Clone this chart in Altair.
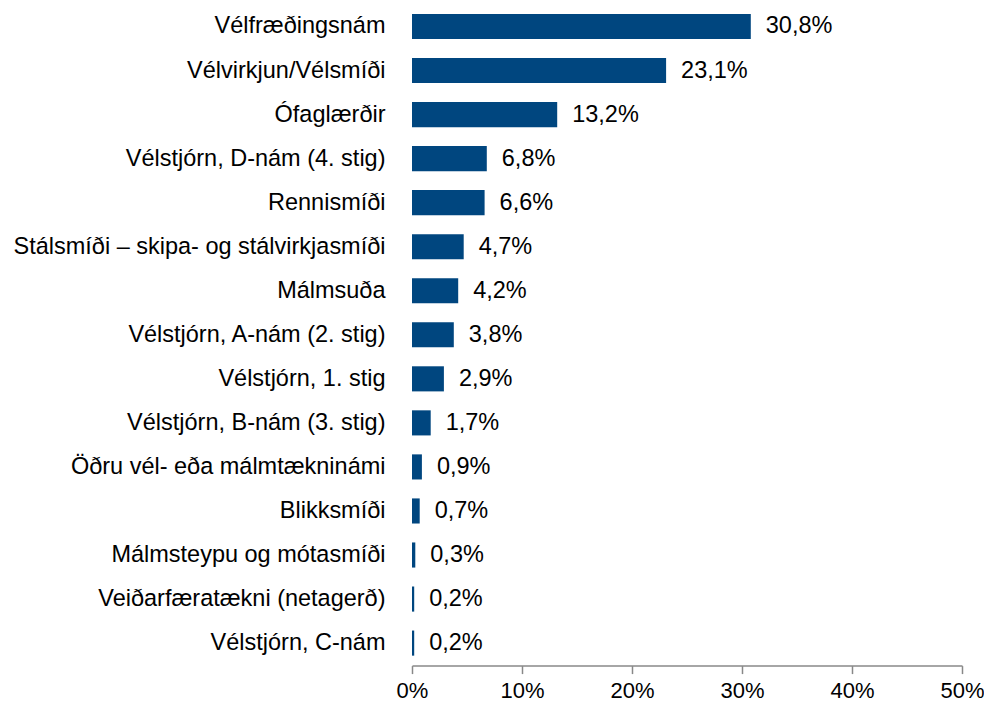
import altair as alt
import pandas as pd

categories = [
    "Vélfræðingsnám",
    "Vélvirkjun/Vélsmíði",
    "Ófaglærðir",
    "Vélstjórn, D-nám (4. stig)",
    "Rennismíði",
    "Stálsmíði – skipa- og stálvirkjasmíði",
    "Málmsuða",
    "Vélstjórn, A-nám (2. stig)",
    "Vélstjórn, 1. stig",
    "Vélstjórn, B-nám (3. stig)",
    "Öðru vél- eða málmtækninámi",
    "Blikksmíði",
    "Málmsteypu og mótasmíði",
    "Veiðarfæratækni (netagerð)",
    "Vélstjórn, C-nám",
]
values = [30.8, 23.1, 13.2, 6.8, 6.6, 4.7, 4.2, 3.8, 2.9, 1.7, 0.9, 0.7, 0.3, 0.2, 0.2]
x_ticks = [0, 10, 20, 30, 40, 50]

df = pd.DataFrame({
    "cat": categories,
    "val": values,
    "label": [f"{v:.1f}".replace(".", ",") + "%" for v in values],
})

FONT = "Liberation Sans, Arial, sans-serif"
FS = 23.5

y = alt.Y("cat:N", sort=categories, title=None,
          scale=alt.Scale(paddingInner=0.43, paddingOuter=0.135),
          axis=alt.Axis(domain=False, ticks=False, labelPadding=27, grid=False,
                        labelFont=FONT, labelFontSize=FS, labelColor="#000000",
                        labelLimit=500))
x = alt.X("val:Q", title=None,
          scale=alt.Scale(domain=[0, 50], nice=False),
          axis=alt.Axis(values=x_ticks, labelExpr="datum.value + '%'", grid=False,
                        domainColor="#888888", domainWidth=1.5, tickColor="#888888",
                        tickWidth=1.5, tickSize=8, offset=4, labelPadding=7,
                        labelFont=FONT, labelFontSize=22, labelColor="#000000",
                        labelFlush=False))

bars = alt.Chart(df).mark_bar(color="#00467F").encode(x=x, y=y)
text = alt.Chart(df).mark_text(align="left", baseline="middle", dx=15,
                               font=FONT, fontSize=FS, color="#000000").encode(
    x=x, y=y, text="label:N")

chart = (bars + text).properties(
    width=550, height=653.6,
    background="white",
    autosize=alt.AutoSizeParams(type="none"),
    padding={"left": 404, "top": 0, "right": 22, "bottom": 50},
).configure_view(strokeWidth=0, stroke="transparent").configure_axis(grid=False)

chart.save("out.html", embed_options={"renderer": "svg", "actions": False})
